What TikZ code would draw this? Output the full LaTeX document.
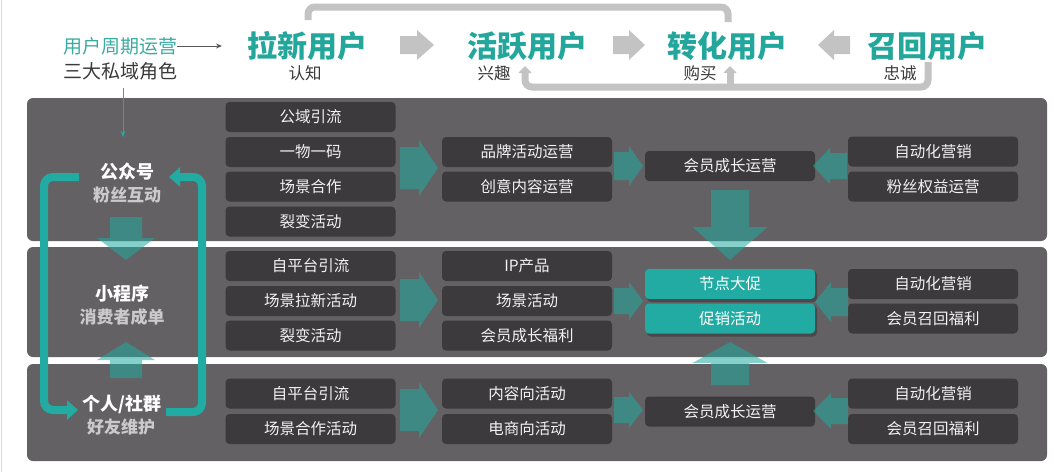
\documentclass[tikz,border=0pt]{standalone}
\usepackage{fontspec}
\setmainfont{Noto Sans CJK SC}
\newfontfamily\cjk{Noto Sans CJK SC}
\usetikzlibrary{arrows.meta}
\definecolor{panelc}{HTML}{636163}
\definecolor{boxc}{HTML}{3C3A3C}
\definecolor{boxt}{HTML}{F2F2F2}
\definecolor{tealc}{HTML}{22ABA2}
\definecolor{headt}{HTML}{23A69B}
\definecolor{hdrteal}{HTML}{3AABA3}
\definecolor{subt}{HTML}{3A3A3A}
\definecolor{loopg}{HTML}{C3C3C3}
\definecolor{lightt}{HTML}{CACACA}
\tikzset{
  panel/.style={fill=panelc, rounded corners=6pt},
  box/.style={fill=boxc, rounded corners=4pt, minimum width=170pt, minimum height=30pt, inner sep=0pt, text=boxt, font=\cjk\fontsize{15.5}{18}\selectfont},
  tbox/.style={box, fill=tealc, text=white},
  tarrow/.style={fill=tealc, fill opacity=0.55},
  garrow/.style={fill=loopg},
  headline/.style={text=headt, font=\cjk\bfseries\fontsize{30}{32}\selectfont, inner sep=0pt},
  subline/.style={text=subt, font=\cjk\fontsize{16.5}{18}\selectfont, inner sep=0pt},
  ltitle/.style={text=white, font=\cjk\bfseries\fontsize{18}{20}\selectfont, inner sep=0pt},
  lsub/.style={text=lightt, font=\cjk\bfseries\fontsize{17}{20}\selectfont, inner sep=0pt},
  tealloop/.style={draw=tealc, line width=8pt, rounded corners=9pt, -{Triangle[width=19pt,length=11pt]}},
  grayloop/.style={draw=loopg, line width=7pt, rounded corners=7pt},
  grayarrowed/.style={grayloop, -{Triangle[width=13pt,length=7pt]}},
}
% horizontal block arrow: style, x0 (tail), xm (head base), x1 (tip), yc, shaft half, head half
\newcommand\hblock[7]{\fill[#1] ({#2},{#5-#6}) -- ({#3},{#5-#6}) -- ({#3},{#5-#7}) -- ({#4},{#5}) -- ({#3},{#5+#7}) -- ({#3},{#5+#6}) -- ({#2},{#5+#6}) -- cycle;}
% vertical block arrow: style, y0 (tail), ym (head base), y1 (tip), xc, shaft half, head half
\newcommand\vblock[7]{\fill[#1] ({#5-#6},{#2}) -- ({#5-#6},{#3}) -- ({#5-#7},{#3}) -- ({#5},{#4}) -- ({#5+#7},{#3}) -- ({#5+#6},{#3}) -- ({#5+#6},{#2}) -- cycle;}
\begin{document}
\begin{tikzpicture}[x=1pt,y=-1pt]
\useasboundingbox (0,0) rectangle (1054,472);
\fill[white] (0,0) rectangle (1054,472);
\draw[color=lightt!70, line width=1pt] (1.5,0) -- (1.5,472);

% ---------- header ----------
\node[text=hdrteal, font=\cjk\fontsize{19}{21}\selectfont, inner sep=0pt] (hdra) at (120,46) {用户周期运营};
\node[text=subt, font=\cjk\fontsize{19}{21}\selectfont, inner sep=0pt] (hdrb) at (120,71) {三大私域角色};
\coordinate (hdrend) at (222,46);
\draw[draw=subt!85, line width=0.9pt, -{Stealth[length=6pt,width=5pt]}] (hdra.east) -- (hdrend);

\node[headline] (h1) at (307,46) {拉新用户};
\node[headline] (h2) at (527,46) {活跃用户};
\node[headline] (h3) at (727,46) {转化用户};
\node[headline] (h4) at (927,46) {召回用户};
\node[subline] (s1) at (305,73) {认知};
\node[subline] (s2) at (494,73) {兴趣};
\node[subline] (s3) at (700,73) {购买};
\node[subline] (s4) at (900,73) {忠诚};

\hblock{garrow}{400}{417}{434}{45}{9}{15}
\hblock{garrow}{613}{629}{645}{45}{9}{15}
\hblock{garrow}{850}{834}{818}{45}{9}{15}

% top loop
\coordinate (tl1) at (728,22);
\coordinate (tl2) at (308,20);
\draw[grayloop] (tl1) -- (728,7) -- (308,7) -- (tl2);
% bottom loop
\coordinate (bl0) at (928,62);
\coordinate (bl1) at (525,66);
\coordinate (bl2) at (730,66);
\draw[grayarrowed] (bl0) -- (928,87) -- (525,87) -- (bl1);
\draw[grayarrowed] (730,84) -- (bl2);

% ---------- panels ----------
\fill[panel] (27,98) rectangle (1047,241);
\fill[panel] (27,247) rectangle (1047,357);
\fill[panel] (27,364) rectangle (1047,461);

% thin teal connector from the header to the first role
\coordinate (vstart) at (123,88);
\coordinate (vend) at (123,137);
\draw[draw=tealc, line width=0.9pt, -{Stealth[length=6pt,width=5pt]}] (vstart) -- (vend);

% panel 1 boxes
\node[box] (a11) at (310.5,117) {公域引流};
\node[box] (a12) at (310.5,152) {一物一码};
\node[box] (a13) at (310.5,186.5) {场景合作};
\node[box] (a14) at (310.5,221.5) {裂变活动};
\node[box] (b11) at (527,152) {品牌活动运营};
\node[box] (b12) at (527,186.5) {创意内容运营};
\node[box] (c11) at (730,166) {会员成长运营};
\node[box] (d11) at (933,151.5) {自动化营销};
\node[box] (d12) at (933,186.5) {粉丝权益运营};

% panel 2 boxes
\node[box] (a21) at (310.5,266) {自平台引流};
\node[box] (a22) at (310.5,301) {场景拉新活动};
\node[box] (a23) at (310.5,335.5) {裂变活动};
\node[box] (b21) at (527,266) {IP产品};
\node[box] (b22) at (527,301) {场景活动};
\node[box] (b23) at (527,335.5) {会员成长福利};
\fill[black, opacity=0.25, rounded corners=4pt] (647,271) rectangle (817,302);
\fill[black, opacity=0.25, rounded corners=4pt] (647,305.5) rectangle (817,336.5);
\node[tbox] (c21) at (730,284) {节点大促};
\node[tbox] (c22) at (730,318.5) {促销活动};
\node[box] (d21) at (933,284) {自动化营销};
\node[box] (d22) at (933,318.5) {会员召回福利};

% panel 3 boxes
\node[box] (a31) at (310.5,393.5) {自平台引流};
\node[box] (a32) at (310.5,429) {场景合作活动};
\node[box] (b31) at (527,393.5) {内容向活动};
\node[box] (b32) at (527,429) {电商向活动};
\node[box] (c31) at (730,411.5) {会员成长运营};
\node[box] (d31) at (933,393.5) {自动化营销};
\node[box] (d32) at (933,429) {会员召回福利};

% teal block arrows between columns
\hblock{tarrow}{400}{419}{438}{168}{21}{28}
\hblock{tarrow}{614}{629}{643}{166}{14}{20}
\hblock{tarrow}{847}{830}{813}{166}{13}{18}
\hblock{tarrow}{400}{419}{438}{300}{21}{28}
\hblock{tarrow}{614}{629}{643}{301}{13}{19}
\hblock{tarrow}{848}{831}{815}{302}{14}{20}
\hblock{tarrow}{400}{419}{438}{410}{21}{28}
\hblock{tarrow}{614}{629}{643}{410}{13}{18}
\hblock{tarrow}{848}{831}{813}{411}{13}{18}
% vertical arrows column 3
\vblock{tarrow}{190}{227}{260}{730}{19}{37.5}
\vblock{tarrow}{385}{363}{342}{730}{19}{37.5}
% vertical arrows left column
\vblock{tarrow}{217}{238}{260}{126}{16}{29}
\vblock{tarrow}{378}{360}{342}{126}{16}{29}

% left titles
\node[ltitle] (l1) at (127,172) {公众号};
\node[lsub] (l1s) at (127,195) {粉丝互动};
\node[ltitle] (l2) at (122,294) {小程序};
\node[lsub] (l2s) at (122,317) {消费者成单};
\node[ltitle] (l3) at (122,404) {个人/社群};
\node[lsub] (l3s) at (121,427) {好友维护};

% teal loops
\coordinate (lp1) at (79,177);
\coordinate (lp2) at (78,410);
\draw[tealloop] (lp1) -- (44,177) -- (44,410) -- (lp2);
\coordinate (rp1) at (166,412);
\coordinate (rp2) at (169,177);
\draw[tealloop] (rp1) -- (202,412) -- (202,177) -- (rp2);
\end{tikzpicture}
\end{document}
